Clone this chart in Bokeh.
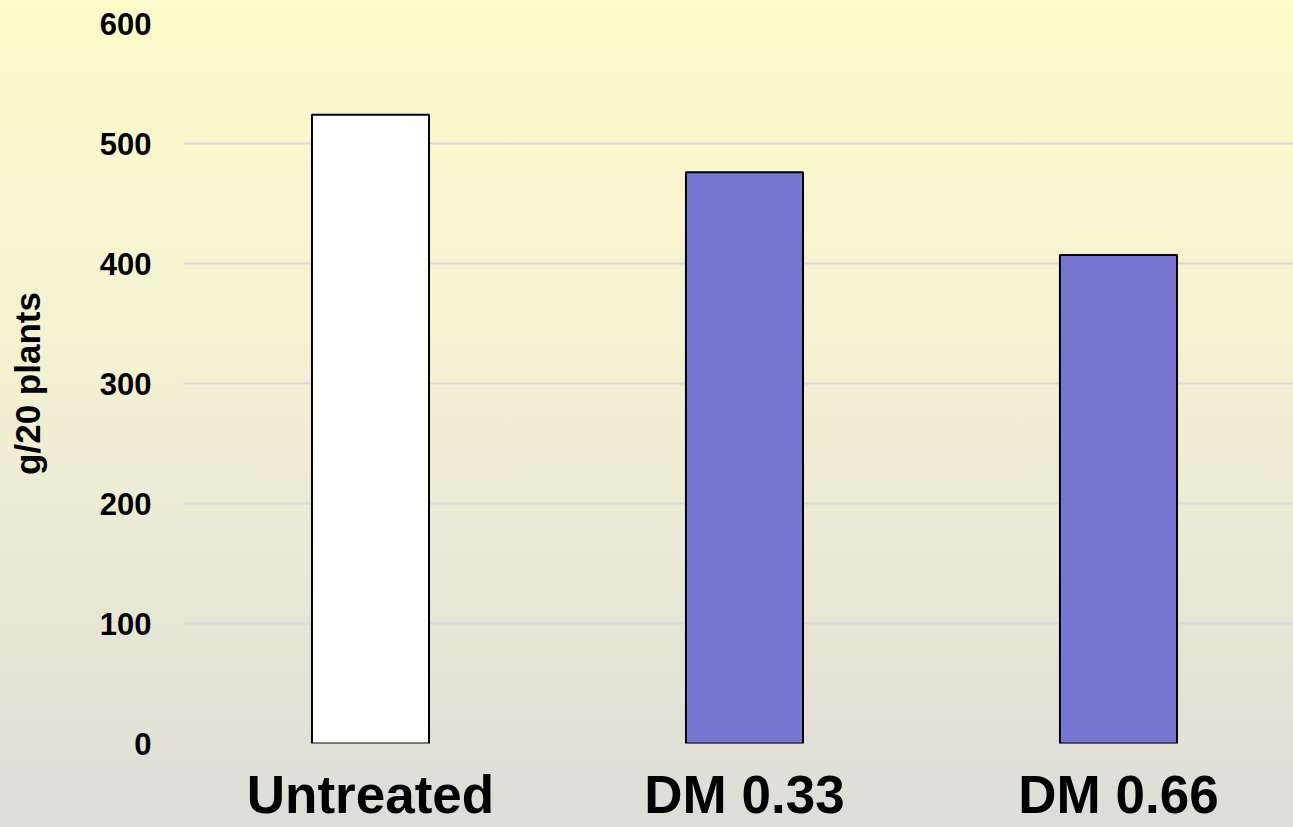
from bokeh.plotting import figure
from bokeh.models import Range1d, FixedTicker, ColumnDataSource
from bokeh.embed import file_html
from bokeh.resources import INLINE

categories = ["Untreated", "DM 0.33", "DM 0.66"]
values = [524, 476, 407]
colors = ["#FFFFFF", "#7676D2", "#7676D2"]
y_ticks = [0, 100, 200, 300, 400, 500, 600]
y_title = "g/20 plants"

x_pos = [i + 0.5 for i in range(len(categories))]
source = ColumnDataSource(dict(x=x_pos, top=values, color=colors, cat=categories))

p = figure(width=1293, height=827, output_backend="svg", toolbar_location=None,
           x_range=Range1d(0, 2.968), y_range=Range1d(0, 600),
           min_border_left=183, min_border_right=0, min_border_top=23, min_border_bottom=84,
           background_fill_color=None, border_fill_color=None, outline_line_color=None,
           styles={"background": "linear-gradient(to bottom, #FCFBCA 0%, #F4F3D2 40%, #DDDDD8 100%)"})

p.vbar(x="x", top="top", width=0.313, fill_color="color", line_color="black",
       line_width=2, source=source)

p.xgrid.visible = False
p.ygrid.grid_line_color = "#D8D8DE"
p.ygrid.grid_line_width = 2

p.yaxis.ticker = FixedTicker(ticks=y_ticks)
p.xaxis.ticker = FixedTicker(ticks=x_pos)
p.xaxis.major_label_overrides = {x: c for x, c in zip(x_pos, categories)}

for ax in (p.xaxis[0], p.yaxis[0]):
    ax.axis_line_color = None
    ax.major_tick_line_color = None
    ax.minor_tick_line_color = None
    ax.major_label_text_font = "Liberation Sans"
    ax.major_label_text_font_style = "bold"
    ax.major_label_text_color = "black"

p.yaxis.major_label_text_font_size = "31px"
p.yaxis.major_label_standoff = 26
p.yaxis.axis_label = y_title
p.yaxis.axis_label_text_font = "Liberation Sans"
p.yaxis.axis_label_text_font_style = "bold"
p.yaxis.axis_label_text_font_size = "35px"
p.yaxis.axis_label_text_color = "black"
p.yaxis.axis_label_standoff = 50

p.xaxis.major_label_text_font_size = "53px"
p.xaxis.major_label_standoff = 15

open("out.html", "w").write(file_html(p, INLINE))
